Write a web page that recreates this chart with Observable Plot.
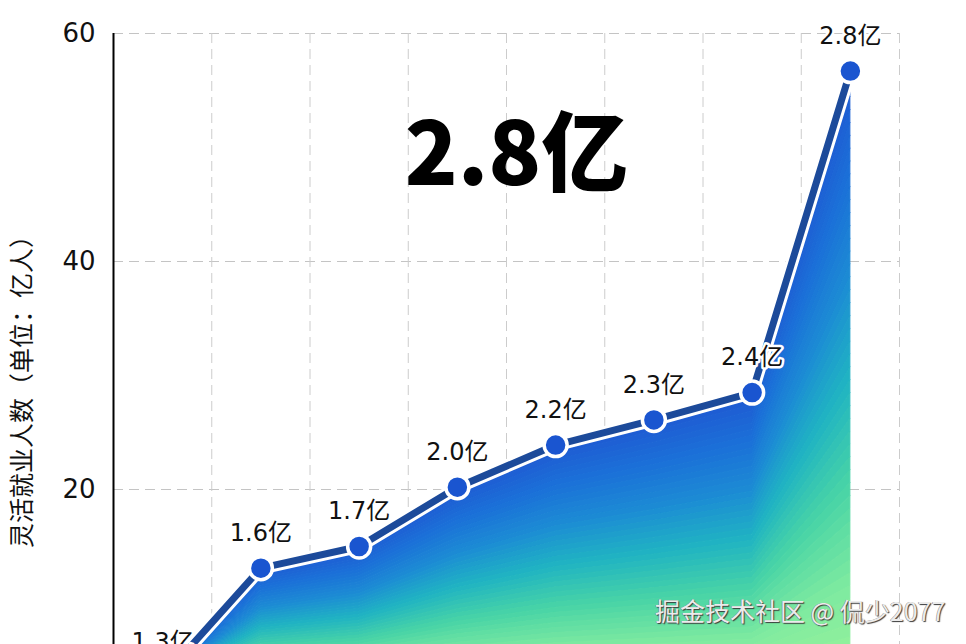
<!DOCTYPE html>
<html>
<head>
<meta charset="utf-8">
<script src="https://cdn.jsdelivr.net/npm/d3@7"></script>
<script src="https://cdn.jsdelivr.net/npm/@observablehq/plot@0.6"></script>
<style>
html, body { margin: 0; padding: 0; background: #fff; overflow: hidden; width: 966px; height: 644px; }
#chart { position: absolute; left: 0; top: 0; }
#wm { position: absolute; left: 655px; top: 592px; font: 25px "Noto Sans CJK SC", sans-serif; color: #ececec;
      text-shadow: 1px 1px 1px #3a3a3a, -0.5px -0.5px 0 #8a8a8a; white-space: nowrap; }
</style>
</head>
<body>
<div id="chart"></div>
<div id="wm">掘金技术社区 @ 侃少2077</div>
<script>
// ---- data ----
const categories = [0, 1, 2, 3, 4, 5, 6, 7];
const values = [3.5, 13.1, 15.0, 20.2, 23.9, 26.1, 28.5, 56.7];
const pointLabels = ["1.3亿", "1.6亿", "1.7亿", "2.0亿", "2.2亿", "2.3亿", "2.4亿", "2.8亿"];
const yTicks = [20, 40, 60];
const headline = "2.8亿";
const yTitle = "灵活就业人数（单位：亿人）";
const gradientStops = ["#1f58d2", "#1b70d8", "#1c8cd4", "#20b4c2", "#48d4a6", "#7eeaa0", "#9cf498"];
const gradientFloor = 2.5; // value where the fill reaches its lightest green

// ---- derived tables ----
const data = categories.map((c, i) => ({x: c, y: values[i], label: pointLabels[i]}));
const xBoundaries = categories.map(c => c + 0.5);
const colorAt = d3.piecewise(d3.interpolateRgb, gradientStops);
const N = 48;
const bands = [];
for (let b = 0; b < N; b++) {
  const t0 = b / N, t1 = (b + 1) / N;
  const col = colorAt((t0 + t1) / 2);
  data.forEach(d => {
    const floor = Math.min(gradientFloor, d.y);
    bands.push({x: d.x, y1: d.y - t0 * (d.y - floor), y2: d.y - t1 * (d.y - floor), band: b, color: col});
  });
}
data.forEach(d => bands.push({x: d.x, y1: Math.min(gradientFloor, d.y), y2: 0, band: N, color: gradientStops[gradientStops.length - 1]}));

const font = "'DejaVu Sans', 'Noto Sans CJK SC', sans-serif";

const chart = Plot.plot({
  width: 966,
  height: 740,
  marginLeft: 113,
  marginRight: 67,
  marginTop: 33,
  marginBottom: 23,
  style: {fontFamily: font, background: "white", color: "#111", overflow: "visible"},
  x: {domain: [-0.5, 7.5], axis: null},
  y: {domain: [0, 60], axis: null},
  color: {type: "identity"},
  marks: [
    Plot.gridY(yTicks, {stroke: "#c4c4c4", strokeOpacity: 1, strokeWidth: 1, strokeDasharray: "10,6"}),
    Plot.gridX(xBoundaries, {stroke: "#cccccc", strokeOpacity: 1, strokeWidth: 1, strokeDasharray: "10,6"}),
    Plot.areaY(bands, {x: "x", y1: "y1", y2: "y2", z: "band", fill: "color", stroke: "color", strokeWidth: 1}),
    Plot.ruleX([-0.5], {stroke: "black", strokeWidth: 2}),
    Plot.axisY(yTicks, {tickSize: 0, tickPadding: 18, fontSize: 26, label: null, fill: "#111"}),
    Plot.line(data, {x: "x", y: "y", stroke: "white", strokeWidth: 13}),
    Plot.line(data, {x: "x", y: "y", stroke: "#1c4a9a", strokeWidth: 7}),
    Plot.dot(data, {x: "x", y: "y", r: 11.5, fill: "#1a55d0", stroke: "white", strokeWidth: 3.5}),
    Plot.text(data, {x: "x", y: "y", text: "label", dy: -35, fontSize: 24, fill: "#111", stroke: "white", strokeWidth: 5}),
    Plot.text([headline], {text: d => d, frameAnchor: "top", dx: 10, dy: 124, fontSize: 87, fontWeight: 900,
      fontFamily: "'Noto Sans CJK SC', sans-serif", fill: "#000", lineAnchor: "middle", textAnchor: "middle"}),
    Plot.text([yTitle], {text: d => d, frameAnchor: "left", textAnchor: "middle", rotate: -90, dx: -91, dy: 10,
      fontSize: 25, fill: "#111", fontFamily: "'Noto Sans CJK SC', sans-serif"})
  ]
});
document.getElementById("chart").append(chart);
</script>
</body>
</html>
